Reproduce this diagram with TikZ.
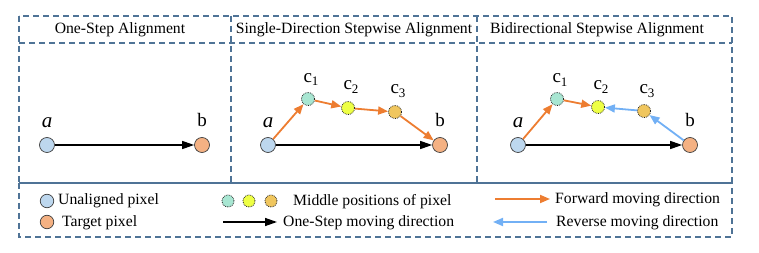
\documentclass[tikz,border=0pt]{standalone}
\usepackage{fontspec}
\setmainfont{Liberation Serif}
\usetikzlibrary{arrows.meta}

\definecolor{framecol}{HTML}{4F7396}
\definecolor{unalignedfill}{HTML}{BDD7EE}
\definecolor{targetfill}{HTML}{F4B183}
\definecolor{midone}{HTML}{A8E6D2}
\definecolor{midtwo}{HTML}{EEFF45}
\definecolor{midthree}{HTML}{F0C65E}
\definecolor{fwdcol}{HTML}{ED7D31}
\definecolor{revcol}{HTML}{72B0F5}

\newcommand{\hdrfont}{\fontsize{15.7}{18}\selectfont}
\newcommand{\lblfont}{\fontsize{19}{21}\selectfont}
\newcommand{\clabel}[1]{{\lblfont c}\raisebox{-3.5pt}{\fontsize{13}{14}\selectfont #1}}

\tikzset{
  panelframe/.style={draw=framecol, line width=1.1pt, dash pattern=on 6pt off 4pt},
  endpt/.style={circle, draw=black!75, line width=0.7pt, minimum size=15pt, inner sep=0pt},
  unaligned/.style={endpt, fill=unalignedfill},
  target/.style={endpt, fill=targetfill},
  midpt/.style={circle, draw=black!85, densely dotted, line width=0.8pt, minimum size=13pt, inner sep=0pt},
  onestep/.style={draw=black, line width=1.4pt, -{Triangle[length=12pt, width=8pt]}},
  forward/.style={draw=fwdcol, line width=1.8pt, -{Triangle[length=10pt, width=8pt]}},
  reverse/.style={draw=revcol, line width=1.8pt, -{Triangle[length=10pt, width=8pt]}},
  hdr/.style={font=\hdrfont, anchor=base, inner sep=0pt},
  legtext/.style={font=\hdrfont, anchor=base west, inner sep=0pt},
  ptlabel/.style={font=\lblfont, anchor=base, inner sep=0pt},
  alabel/.style={font=\fontsize{21}{22}\selectfont\itshape, anchor=base, inner sep=0pt},
}

\begin{document}
\begin{tikzpicture}[x=1pt, y=-1pt]
\useasboundingbox (0,0) rectangle (759,253);

% frames of the three panels and the legend
\draw[panelframe] (19,16) rectangle (732,183);
\draw[panelframe] (19,43) -- (732,43);
\draw[panelframe] (231,16) -- (231,183);
\draw[panelframe] (477,16) -- (477,183);
\draw[panelframe] (19,183) rectangle (732,237);

% panel titles
\node[hdr] (t1) at (120,34) {One-Step Alignment};
\node[hdr] (t2) at (354,34) {Single-Direction Stepwise Alignment};
\node[hdr] (t3) at (597,34) {Bidirectional Stepwise Alignment};

% panel 1: one-step alignment
\node[unaligned] (a1) at (47,145) {};
\node[target] (b1) at (202,145) {};
\node[alabel] (la1) at (47,127.5) {a};
\node[ptlabel] (lb1) at (202,127) {b};
\draw[onestep] (a1) -- (b1);

% panel 2: single-direction stepwise alignment
\node[unaligned] (a2) at (268,145) {};
\node[target] (b2) at (440,145) {};
\node[midpt, fill=midone] (c21) at (308,99) {};
\node[midpt, fill=midtwo] (c22) at (348,108) {};
\node[midpt, fill=midthree] (c23) at (395,112) {};
\node[alabel] (la2) at (268,127.5) {a};
\node[ptlabel] (lb2) at (440,127) {b};
\node[ptlabel] (lc21) at (311,82.5) {\clabel{1}};
\node[ptlabel] (lc22) at (351,90) {\clabel{2}};
\node[ptlabel] (lc23) at (398,94) {\clabel{3}};
\draw[onestep] (a2) -- (b2);
\draw[forward] (a2) -- (c21);
\draw[forward] (c21) -- (c22);
\draw[forward] (c22) -- (c23);
\draw[forward] (c23) -- (b2);

% panel 3: bidirectional stepwise alignment
\node[unaligned] (a3) at (518,145) {};
\node[target] (b3) at (690,145) {};
\node[midpt, fill=midone] (c31) at (557,99) {};
\node[midpt, fill=midtwo] (c32) at (598,107) {};
\node[midpt, fill=midthree] (c33) at (644,111) {};
\node[alabel] (la3) at (518,127.5) {a};
\node[ptlabel] (lb3) at (690,127) {b};
\node[ptlabel] (lc31) at (560,83) {\clabel{1}};
\node[ptlabel] (lc32) at (601,90) {\clabel{2}};
\node[ptlabel] (lc33) at (647,94) {\clabel{3}};
\draw[onestep] (a3) -- (b3);
\draw[forward] (a3) -- (c31);
\draw[forward] (c31) -- (c32);
\draw[reverse] (b3) -- (c33);
\draw[reverse] (c33) -- (c32);

% legend
\node[unaligned, minimum size=13.5pt] (lgu) at (47,201) {};
\node[legtext] (lgut) at (58,205) {Unaligned pixel};
\node[target, minimum size=13.5pt] (lgt) at (47,222) {};
\node[legtext] (lgtt) at (62,226.5) {Target pixel};

\node[midpt, fill=midone, minimum size=12pt] (lgm1) at (228,201) {};
\node[midpt, fill=midtwo, minimum size=12pt] (lgm2) at (249,201) {};
\node[midpt, fill=midthree, minimum size=12pt] (lgm3) at (271,201) {};
\node[legtext] (lgmt) at (293,205.5) {Middle positions of pixel};

\coordinate (los) at (223,222);
\coordinate (loe) at (277,222);
\draw[onestep] (los) -- (loe);
\node[legtext] (lgot) at (283,227) {One-Step moving direction};

\coordinate (lfs) at (495,199);
\coordinate (lfe) at (550,199);
\draw[forward] (lfs) -- (lfe);
\node[legtext] (lgft) at (555,204) {Forward moving direction};

\coordinate (lrs) at (547,222);
\coordinate (lre) at (493,222);
\draw[reverse] (lrs) -- (lre);
\node[legtext] (lgrt) at (556,227) {Reverse moving direction};
\end{tikzpicture}
\end{document}
